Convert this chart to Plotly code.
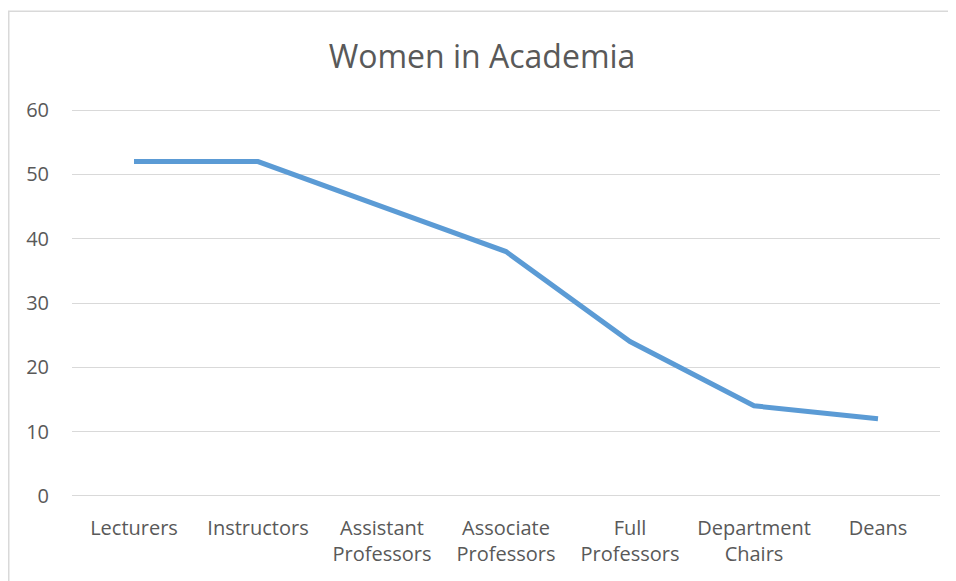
import plotly.graph_objects as go

categories = ["Lecturers", "Instructors", "Assistant<br>Professors", "Associate<br>Professors",
              "Full<br>Professors", "Department<br>Chairs", "Deans"]
values = [52, 52, 45, 38, 24, 14, 12]
y_ticks = [0, 10, 20, 30, 40, 50, 60]

# page has an 8px body margin, so the figure is drawn at (8, 8)
W, H = 948, 573
ml, mr, mt, mb = 64, 16, 98.8, 81.8
pw, ph = W - ml - mr, H - mt - mb

fig = go.Figure()
fig.add_trace(go.Scatter(
    x=list(range(len(categories))), y=values, mode="lines",
    line=dict(color="#5B9BD5", width=5),
    hoverinfo="skip", showlegend=False,
))

font_family = "Open Sans, Noto Sans, sans-serif"
fig.update_layout(
    width=W, height=H,
    margin=dict(l=ml, r=mr, t=mt, b=mb, autoexpand=False),
    paper_bgcolor="white", plot_bgcolor="white",
    title=dict(text="Women in Academia", x=0.5, xanchor="center",
               y=1 - 49 / H, yanchor="middle",
               font=dict(family=font_family, size=32, color="#595959")),
    font=dict(family=font_family, color="#595959"),
    xaxis=dict(range=[-0.5, len(categories) - 0.5],
               tickvals=list(range(len(categories))), ticktext=categories,
               showgrid=False, zeroline=False, showline=False, automargin=False,
               tickfont=dict(size=20, color="#595959"),
               ticklabelstandoff=15, fixedrange=True),
    yaxis=dict(range=[-0.5, 60.5], tickvals=y_ticks, showgrid=True,
               gridcolor="#D9D9D9", gridwidth=1, zeroline=False, showline=False,
               automargin=False,
               tickfont=dict(size=20, color="#595959"),
               ticklabelstandoff=22, fixedrange=True),
    shapes=[
        dict(type="rect", xref="paper", yref="paper",
             x0=(0.75 - ml) / pw, x1=(W + 20 - ml) / pw,
             y0=-(mb + 20) / ph, y1=(H - 3 - mb) / ph,
             line=dict(color="#D9D9D9", width=1.5), layer="below"),
    ],
)

fig.write_html("out.html")
